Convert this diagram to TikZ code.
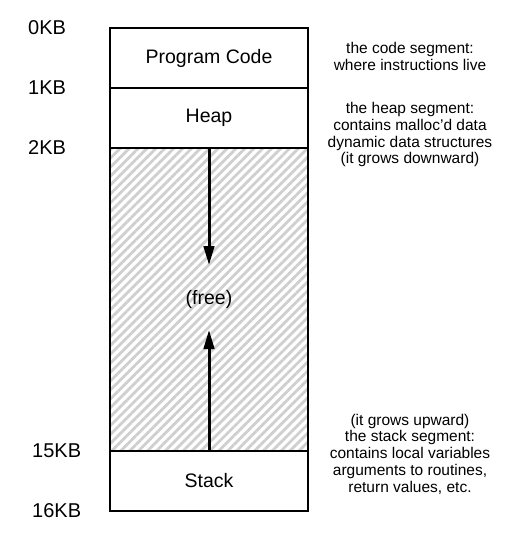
\documentclass[tikz,border=0pt]{standalone}
\usepackage{fontspec}
\setmainfont{Liberation Sans}
\usetikzlibrary{positioning, arrows.meta, patterns.meta}

\tikzset{
	seg/.style={draw, line width=1.6pt, minimum width=198pt, minimum height=60pt, outer sep=0pt, inner sep=0pt, font=\fontsize{19.5}{23}\selectfont},
	kb/.style={anchor=west, inner sep=0pt, font=\fontsize{20}{24}\selectfont},
	note/.style={align=center, inner sep=0pt, font=\fontsize{15.5}{16.8}\selectfont},
	growarrow/.style={-{Triangle[length=19pt,width=10.5pt]}, line width=3pt},
	hatch/.style={pattern={Lines[angle=45,distance=6.3pt,line width=2.8pt]}, pattern color=black!19},
}

\begin{document}
\begin{tikzpicture}[x=1pt, y=-1pt, node distance=0pt]
	\useasboundingbox (0,0) rectangle (531,536);
	
	% address space
	\node[seg] (code) at (209,58) {Program Code};
	\node[seg, below=of code] (heap) {Heap};
	\node[seg, hatch, below=of heap, minimum height=303pt] (free) {(free)};
	\node[seg, below=of free] (stack) {Stack};
	
	% addresses
	\node[kb] (kb0) at ([xshift=-82pt]code.north west) {0KB};
	\node[kb] (kb1) at ([xshift=-82pt]code.south west) {1KB};
	\node[kb] (kb2) at ([xshift=-82pt]heap.south west) {2KB};
	\node[kb] (kb15) at ([xshift=-78pt]free.south west) {15KB};
	\node[kb] (kb16) at ([xshift=-78pt]stack.south west) {16KB};
	
	% notes
	\node[note, anchor=north] (codenote) at (410,42.5) {the code segment:\\where instructions live};
	\node[note, anchor=north] (heapnote) at (410,102) {the heap segment:\\contains malloc'd data\\dynamic data structures\\(it grows downward)};
	\node[note, anchor=south] (stacknote) at (410,494.5) {(it grows upward)\\the stack segment:\\contains local variables\\arguments to routines,\\return values, etc.};
	
	\coordinate (heaptip) at ([yshift=-117pt]free.north);
	\coordinate (stacktip) at ([yshift=121pt]free.south);
	\path[growarrow] (free.north) edge (heaptip)
	(free.south) edge (stacktip)
	;
\end{tikzpicture}
\end{document}
